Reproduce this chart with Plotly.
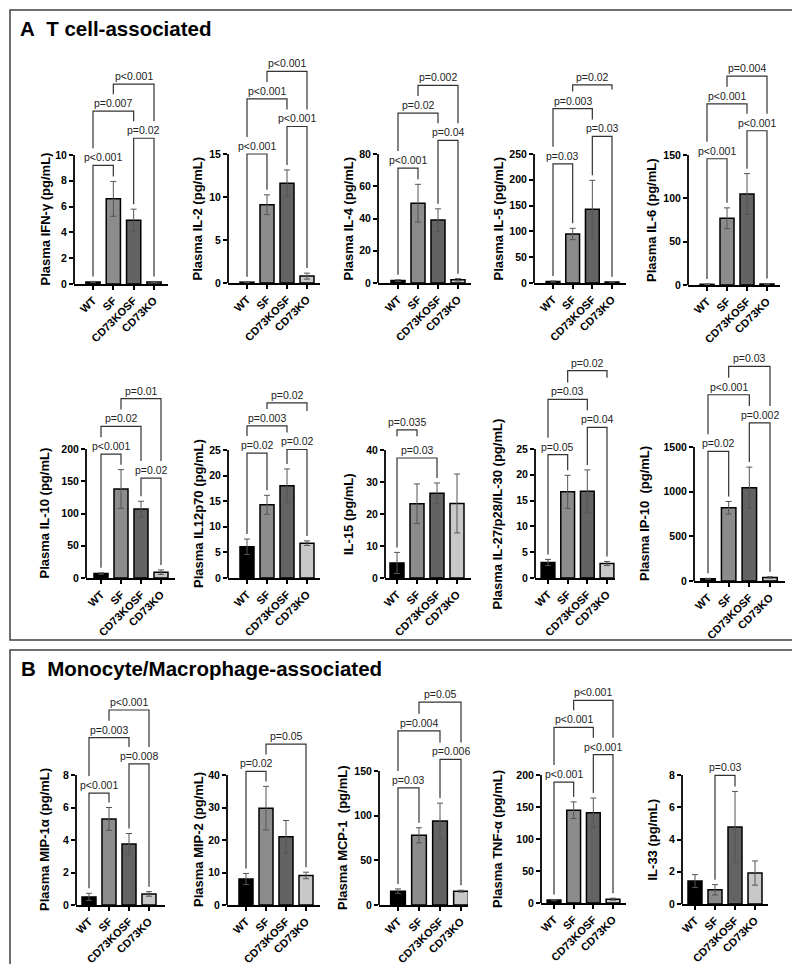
import plotly.graph_objects as go

W, H = 800, 964

groups = ["WT", "SF", "CD73KOSF", "CD73KO"]
bar_colors = ["#000000", "#8c8c8c", "#636363", "#c8c8c8"]

titles = [
    "Plasma IFN-γ (pg/mL)", "Plasma IL-2 (pg/mL)", "Plasma IL-4 (pg/mL)",
    "Plasma IL-5 (pg/mL)", "Plasma IL-6 (pg/mL)",
    "Plasma IL-10 (pg/mL)", "Plasma IL12p70 (pg/mL)", "IL-15 (pg/mL)",
    "Plasma IL-27/p28/IL-30 (pg/mL)", "Plasma IP-10\u00a0\u00a0(pg/mL)",
    "Plasma MIP-1α (pg/mL)", "Plasma MIP-2 (pg/mL)", "Plasma MCP-1\u00a0\u00a0(pg/mL)",
    "Plasma TNF-α (pg/mL)", "IL-33 (pg/mL)",
]

# mean values per group (WT, SF, CD73KOSF, CD73KO)
means = [
    [0.15, 6.6, 4.95, 0.15],
    [0.1, 9.1, 11.6, 0.8],
    [1.5, 49.5, 39, 2],
    [3, 95, 143, 2],
    [0.8, 77, 105, 1.2],
    [7, 138, 107, 9],
    [6.1, 14.3, 18, 6.8],
    [4.7, 23.2, 26.5, 23.3],
    [3.0, 16.7, 16.8, 2.8],
    [25, 820, 1045, 40],
    [0.5, 5.3, 3.75, 0.68],
    [8, 29.8, 21, 9.1],
    [15.5, 78, 94, 15.5],
    [4.5, 145, 141, 6],
    [1.42, 0.88, 4.78, 1.92],
]

# error bar half-lengths
errs = [
    [0.05, 1.35, 0.85, 0.05],
    [0.05, 1.15, 1.55, 0.35],
    [0.5, 11.7, 7, 0.7],
    [1, 11, 56, 0.5],
    [0.3, 12, 23.5, 0.5],
    [1, 30, 12, 3.5],
    [1.5, 1.85, 3.3, 0.45],
    [3.3, 6.2, 3.2, 9.2],
    [0.6, 3.2, 4.15, 0.4],
    [5, 70, 230, 8],
    [0.22, 0.7, 0.65, 0.14],
    [1.7, 6.7, 5, 1],
    [2.5, 8.5, 20, 1],
    [1, 13, 23, 1.5],
    [0.4, 0.32, 2.2, 0.75],
]

ytick_max = [10, 15, 80, 250, 150, 200, 25, 40, 25, 1500, 8, 40, 150, 200, 8]
ytick_step = [2, 5, 20, 50, 50, 50, 5, 10, 5, 500, 2, 10, 50, 50, 2]

# significance brackets: (group i, group j, height, label, left leg end, right leg end)
brackets = [
    [(0, 1, 9.2, "p<0.001", None, None), (0, 2, 13.4, "p=0.007", None, None),
     (2, 3, 11.3, "p=0.02", None, None), (1, 3, 15.5, "p<0.001", None, None)],
    [(0, 1, 15.0, "p<0.001", None, None), (0, 2, 21.4, "p<0.001", None, None),
     (2, 3, 18.2, "p<0.001", None, None), (1, 3, 24.6, "p<0.001", None, None)],
    [(0, 1, 71.3, "p<0.001", None, None), (0, 2, 105.4, "p=0.02", None, None),
     (2, 3, 88.5, "p=0.04", None, None), (1, 3, 122.6, "p=0.002", None, None)],
    [(0, 1, 231, "p=0.03", None, None), (0, 2, 338, "p=0.003", None, None),
     (2, 3, 284, "p=0.03", None, None), (1, 3, 384, "p=0.02", None, 375)],
    [(0, 1, 145.7, "p<0.001", None, None), (0, 2, 209, "p<0.001", None, None),
     (2, 3, 178, "p<0.001", None, None), (1, 3, 241, "p=0.004", None, None)],
    [(0, 1, 192, "p<0.001", None, None), (0, 2, 235, "p=0.02", None, None),
     (2, 3, 155, "p=0.02", None, None), (1, 3, 278, "p=0.01", None, None)],
    [(0, 1, 24.4, "p=0.02", None, None), (0, 2, 29.7, "p=0.003", None, None),
     (2, 3, 25.1, "p=0.02", None, None), (1, 3, 34.2, "p=0.02", None, 32.6)],
    [(0, 1, 46.3, "p=0.035", 44.3, 44.3), (0, 2, 37.5, "p=0.03", None, None)],
    [(0, 1, 23.9, "p=0.05", None, None), (0, 2, 34.6, "p=0.03", None, None),
     (2, 3, 29.2, "p=0.04", None, None), (1, 3, 40.2, "p=0.02", None, 38.8)],
    [(0, 1, 1452, "p=0.02", None, None), (0, 2, 2085, "p<0.001", None, None),
     (2, 3, 1769, "p=0.002", None, None), (1, 3, 2403, "p=0.03", None, None)],
    [(0, 1, 6.89, "p<0.001", None, None), (0, 2, 10.3, "p=0.003", None, None),
     (2, 3, 8.68, "p=0.008", None, None), (1, 3, 12.0, "p<0.001", None, None)],
    [(0, 1, 41.1, "p=0.02", None, None), (1, 3, 49.5, "p=0.05", None, None)],
    [(0, 1, 131, "p=0.03", None, None), (0, 2, 195, "p=0.004", None, None),
     (2, 3, 163, "p=0.006", None, None), (1, 3, 227, "p=0.05", None, None)],
    [(0, 1, 189, "p<0.001", None, None), (0, 2, 274.5, "p<0.001", None, None),
     (2, 3, 231.7, "p<0.001", None, None), (1, 3, 316.7, "p<0.001", None, None)],
    [(1, 2, 7.98, "p=0.03", None, None)],
]

# panel placement in pixels
axis_px = [66, 220, 370, 526, 680, 78, 220, 377, 527, 686, 68, 219, 371, 533, 674]
wt_px = [85, 239, 390, 545, 699, 93, 239, 389, 540, 700, 81, 238, 390, 546, 687]
ko_px = [146, 299, 450, 604, 759, 153, 299, 449, 599, 762, 141, 298, 453, 605, 747]
end_px = [160, 312, 463, 618, 772, 167, 312, 463, 607, 777, 157, 312, 460, 618, 760]
zero_px = [276, 275, 275, 275, 277, 570, 570, 570, 570, 573, 897, 897, 897, 895, 896]
top_px = [147, 146, 146, 146, 147, 441, 442, 442, 441, 439, 767, 767, 763, 767, 767]
title_px = [37, 189, 340, 490, 643, 36, 190, 340, 489, 636, 36, 190, 334, 489, 644]
row_of = [0] * 5 + [1] * 5 + [2] * 5
dom_top_px = [40, 335, 672]

FONT = "Liberation Sans, Arial, sans-serif"

fig = go.Figure()
axes = {}
shapes = []
annotations = []

for k in range(15):
    n = k + 1
    xa = "x" if n == 1 else "x%d" % n
    ya = "y" if n == 1 else "y%d" % n
    unit_x = (ko_px[k] - wt_px[k]) / 3.0
    unit_y = (zero_px[k] - top_px[k]) / ytick_max[k]
    x_lo = -(wt_px[k] - axis_px[k]) / unit_x
    x_hi = 3 + (end_px[k] - ko_px[k]) / unit_x
    dom_top = dom_top_px[row_of[k]]
    y_hi = (zero_px[k] - dom_top) / unit_y

    axes["xaxis" + ("" if n == 1 else str(n))] = dict(
        domain=[axis_px[k] / W, end_px[k] / W], range=[x_lo, x_hi], anchor=ya,
        tickvals=[0, 1, 2, 3], ticktext=groups, tickangle=-45,
        ticks="outside", ticklen=4, tickwidth=1.5, tickcolor="black",
        showline=True, linewidth=1.8, linecolor="black",
        showgrid=False, zeroline=False, automargin=False, fixedrange=True,
        tickfont=dict(family=FONT, size=11, color="black", weight="bold"),
    )
    axes["yaxis" + ("" if n == 1 else str(n))] = dict(
        domain=[1 - zero_px[k] / H, 1 - dom_top / H], range=[0, y_hi], anchor=xa,
        tickvals=list(range(0, ytick_max[k] + 1, ytick_step[k])),
        ticks="outside", ticklen=4, tickwidth=1.5, tickcolor="black",
        showline=False, showgrid=False, zeroline=False, automargin=False,
        fixedrange=True,
        tickfont=dict(family=FONT, size=10.5, color="black", weight="bold"),
    )

    # y axis line only up to the top tick
    shapes.append(dict(
        type="line", xref="paper", yref="paper",
        x0=axis_px[k] / W, x1=axis_px[k] / W,
        y0=1 - zero_px[k] / H, y1=1 - top_px[k] / H,
        line=dict(color="black", width=1.8),
    ))

    fig.add_trace(go.Bar(
        x=[0, 1, 2, 3], y=means[k], width=0.7,
        marker=dict(color=bar_colors, line=dict(color="black", width=1.5)),
        error_y=dict(type="data", array=errs[k], visible=True,
                     color="#555555", thickness=1, width=3),
        xaxis=xa, yaxis=ya, showlegend=False, hoverinfo="skip",
    ))

    # brackets
    bx, by = [], []
    plist = brackets[k]
    for (i, j, h, label, ov_l, ov_r) in plist:
        ends = []
        for idx, ov in ((i, ov_l), (j, ov_r)):
            if ov is not None:
                ends.append(ov)
                continue
            cands = [means[k][idx] + errs[k][idx] + 5 / unit_y]
            for o in plist:
                if o[2] >= h:
                    continue
                if o[0] <= idx <= o[1]:
                    cands.append(o[2] + 3 / unit_y)
                half = len(o[3]) * 5.3 / 2 / unit_x
                if abs(idx - (o[0] + o[1]) / 2.0) < half:
                    cands.append(o[2] + 17 / unit_y)
            ends.append(max(cands))
        bx += [i, i, j, j, None]
        by += [ends[0], h, h, ends[1], None]
        annotations.append(dict(
            x=(i + j) / 2.0, y=h, xref=xa, yref=ya, text=label,
            showarrow=False, yanchor="bottom", xanchor="center", yshift=0,
            font=dict(family=FONT, size=10.5, color="#222222"),
        ))
    fig.add_trace(go.Scatter(
        x=bx, y=by, mode="lines", line=dict(color="#333333", width=1.2),
        xaxis=xa, yaxis=ya, showlegend=False, hoverinfo="skip",
    ))

    # y axis title centred on the drawn axis
    annotations.append(dict(
        x=title_px[k] / W, y=1 - (zero_px[k] + top_px[k]) / 2.0 / H,
        xref="paper", yref="paper", text=titles[k], textangle=-90,
        showarrow=False, xanchor="center", yanchor="middle",
        font=dict(family=FONT, size=13, color="black", weight="bold"),
    ))

# section boxes and headings
shapes.append(dict(type="rect", xref="paper", yref="paper",
                   x0=2 / W, x1=797 / W, y0=1 - 632 / H, y1=1 - 2 / H,
                   line=dict(color="#404040", width=1.5)))
shapes.append(dict(type="rect", xref="paper", yref="paper",
                   x0=2 / W, x1=797 / W, y0=1 - 962 / H, y1=1 - 642 / H,
                   line=dict(color="#404040", width=1.5)))
annotations.append(dict(
    x=10 / W, y=1 - 20 / H, xref="paper", yref="paper",
    text="A\u00a0\u00a0T cell-associated", showarrow=False,
    xanchor="left", yanchor="middle",
    font=dict(family=FONT, size=20.5, color="black", weight="bold"),
))
annotations.append(dict(
    x=11 / W, y=1 - 660 / H, xref="paper", yref="paper",
    text="B\u00a0\u00a0Monocyte/Macrophage-associated", showarrow=False,
    xanchor="left", yanchor="middle",
    font=dict(family=FONT, size=20.5, color="black", weight="bold"),
))

fig.update_layout(
    width=W, height=H,
    margin=dict(l=0, r=0, t=0, b=0),
    paper_bgcolor="white", plot_bgcolor="white",
    showlegend=False, bargap=0.3,
    shapes=shapes, annotations=annotations,
    **axes
)

fig.write_html("out.html")
